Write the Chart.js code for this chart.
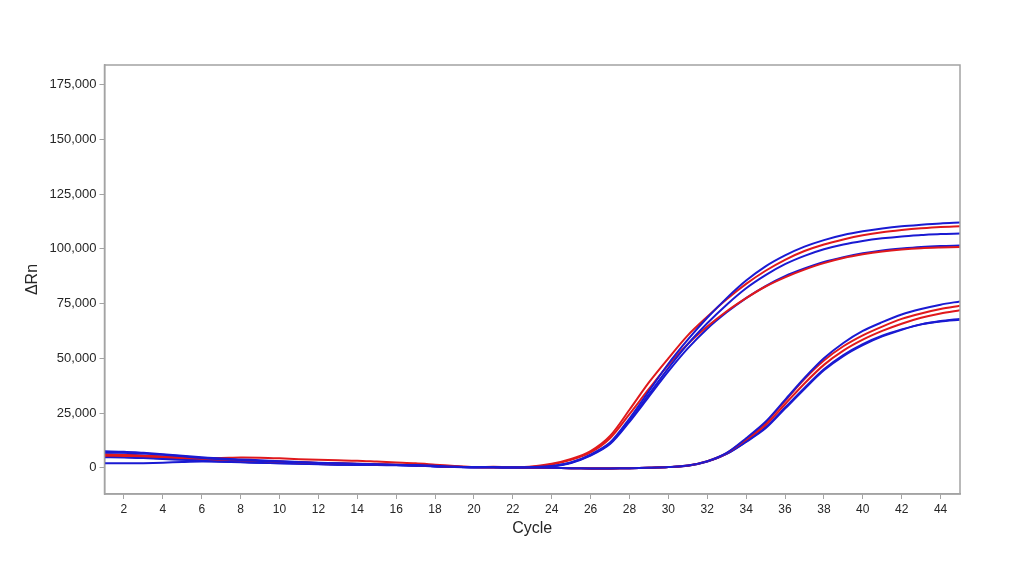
<!DOCTYPE html>
<html>
<head>
<meta charset="utf-8">
<script src="https://cdn.jsdelivr.net/npm/chart.js@4"></script>
<style>
  html, body { margin: 0; padding: 0; background: #ffffff; }
  #wrap { width: 1024px; height: 566px; }
</style>
</head>
<body>
<div id="wrap"><canvas id="c" width="1024" height="566"></canvas></div>
<script>
const cycles = [1,2,3,4,5,6,7,8,9,10,11,12,13,14,15,16,17,18,19,20,21,22,23,24,25,26,27,28,29,30,31,32,33,34,35,36,37,38,39,40,41,42,43,44,45];
const xTickValues = [2,4,6,8,10,12,14,16,18,20,22,24,26,28,30,32,34,36,38,40,42,44];
const yTickValues = [0,25000,50000,75000,100000,125000,150000,175000];

// Early-amplifying wells
const wellA1 = [7500,7300,6800,6200,5500,4800,4200,3800,3400,3000,2600,2300,2000,1800,1600,1400,1200,900,500,300,300,200,300,
  800,2400,6000,11500,22500,35000,47500,58500,68500,77500,85500,92000,97000,101000,104000,106300,108000,109300,110300,111000,111600,112000];
const wellA2 = [6000,5800,5500,5100,4700,4400,4500,4700,4600,4300,3900,3600,3400,3200,2800,2400,2000,1400,800,300,400,300,600,
  1800,4000,7600,14500,26500,39000,50000,60500,69000,77000,84000,90000,95000,99000,102000,104300,106200,107600,108600,109400,110000,110300];
const wellA3 = [5000,4900,4600,4200,3800,3400,3000,2700,2400,2200,2000,1800,1600,1400,1300,1200,1000,700,400,200,200,200,200,
  700,2400,5800,11200,21500,33500,45500,56500,66000,74500,82000,88000,93000,96800,99800,102000,103600,104800,105700,106300,106800,107000];
const wellA4 = [6200,6000,5600,5000,4400,3800,3300,2900,2600,2300,2000,1700,1500,1400,1300,1200,1000,700,400,200,200,200,200,
  600,2200,5500,10800,21000,32500,44000,54500,63500,71000,77500,83000,87500,91000,94000,96200,98000,99300,100200,100900,101300,101500];
const wellA5 = [5300,5100,4800,4500,4200,3900,3600,3300,3000,2700,2400,2100,1900,1700,1500,1300,1100,800,500,300,300,300,500,
  1500,3600,7000,13500,24500,36000,47000,56500,64500,71500,77500,82800,87000,90500,93500,95800,97500,98800,99700,100300,100600,100800];

// Late-amplifying wells
const wellB1 = [7000,6900,6500,5900,5200,4500,3900,3500,3100,2800,2500,2200,1900,1700,1500,1300,1100,800,400,
  200,200,100,100,0,-200,-300,-300,-200,0,300,
  1000,3000,6800,13500,21000,31000,41000,50000,57000,62500,66500,70000,72500,74500,76000];
const wellB2 = [5500,5400,5200,4900,4500,4100,3700,3400,3100,2800,2500,2200,2000,1800,1600,1400,1200,900,500,
  300,200,200,100,0,-200,-300,-300,-200,0,300,
  1000,3000,6700,13000,20500,30500,40500,49000,55500,60500,64500,68000,70500,72500,74000];
const wellB3 = [5000,4900,4700,4400,4100,3800,3500,3200,2900,2600,2300,2000,1800,1600,1400,1300,1100,800,400,
  200,200,100,0,-100,-200,-300,-300,-200,0,300,
  900,2900,6500,12500,19500,29000,38500,47000,53500,58500,62500,65800,68500,70500,72000];
const wellB4 = [4800,4700,4400,4000,3600,3200,2900,2600,2300,2100,1900,1700,1500,1400,1300,1200,1000,700,400,
  200,200,100,0,-100,-200,-300,-300,-200,0,300,
  900,2800,6300,11800,18000,27000,36000,44500,51000,56000,60000,63000,65500,67000,68000];
const wellB5 = [2000,2000,2100,2300,2600,2800,2700,2500,2300,2100,1800,1600,1400,1300,1200,1100,900,600,300,
  200,200,100,0,-100,-200,-300,-300,-200,0,300,
  900,2800,6400,12000,18500,27500,36500,45000,51500,56500,60300,63200,65500,66800,67600];

const BLUE = '#1a1ad2';
const RED = '#e0191c';

const wells = [
  { name: 'A1', values: wellA1, color: BLUE },
  { name: 'B1', values: wellB1, color: BLUE },
  { name: 'A2', values: wellA2, color: RED },
  { name: 'B2', values: wellB2, color: RED },
  { name: 'A3', values: wellA3, color: BLUE },
  { name: 'B4', values: wellB4, color: BLUE },
  { name: 'A5', values: wellA5, color: RED },
  { name: 'B3', values: wellB3, color: RED },
  { name: 'A4', values: wellA4, color: BLUE },
  { name: 'B5', values: wellB5, color: BLUE }
];

const FONT = "'Liberation Sans', Arial, sans-serif";
const AXIS_GREY = '#a3a3a3';

const framePlugin = {
  id: 'frame',
  afterDraw(chart) {
    const { ctx, chartArea: a } = chart;
    ctx.save();
    ctx.strokeStyle = AXIS_GREY;
    ctx.lineWidth = 1.5;
    ctx.strokeRect(a.left, a.top, a.right - a.left, a.bottom - a.top);
    ctx.restore();
  }
};

new Chart(document.getElementById('c'), {
  type: 'line',
  data: {
    datasets: wells.map(w => ({
      label: w.name,
      data: cycles.map((c, i) => ({ x: c, y: w.values[i] })),
      borderColor: w.color,
      backgroundColor: w.color,
      borderWidth: 2,
      pointRadius: 0,
      tension: 0.3,
      fill: false
    }))
  },
  options: {
    responsive: false,
    animation: false,
    devicePixelRatio: 1,
    layout: { padding: { top: 65, right: 64, left: 0, bottom: 0 } },
    plugins: { legend: { display: false }, tooltip: { enabled: false } },
    scales: {
      x: {
        type: 'linear',
        min: 1,
        max: 45,
        afterBuildTicks(axis) { axis.ticks = xTickValues.map(v => ({ value: v })); },
        afterFit(axis) { axis.height = 72; },
        grid: { drawOnChartArea: false, drawTicks: true, tickLength: 5, color: AXIS_GREY, lineWidth: 1 },
        border: { display: true, color: AXIS_GREY, width: 1.5 },
        ticks: { color: '#262626', font: { family: FONT, size: 12 }, padding: 3, maxRotation: 0, autoSkip: false },
        title: { display: true, text: 'Cycle', color: '#262626', font: { family: FONT, size: 16 }, padding: { top: 0, bottom: 28 } }
      },
      y: {
        type: 'linear',
        min: -12000,
        max: 184000,
        afterBuildTicks(axis) { axis.ticks = yTickValues.map(v => ({ value: v })); },
        afterFit(axis) { axis.width = 104.5; },
        grid: { drawOnChartArea: false, drawTicks: true, tickLength: 5, color: AXIS_GREY, lineWidth: 1 },
        border: { display: true, color: AXIS_GREY, width: 1.5 },
        ticks: {
          color: '#262626', font: { family: FONT, size: 13 }, padding: 3, autoSkip: false,
          callback: v => v.toLocaleString('en-US')
        },
        title: { display: true, text: 'ΔRn', color: '#262626', font: { family: FONT, size: 16 }, padding: { top: 23, bottom: 0 } }
      }
    }
  },
  plugins: [framePlugin]
});
</script>
</body>
</html>
